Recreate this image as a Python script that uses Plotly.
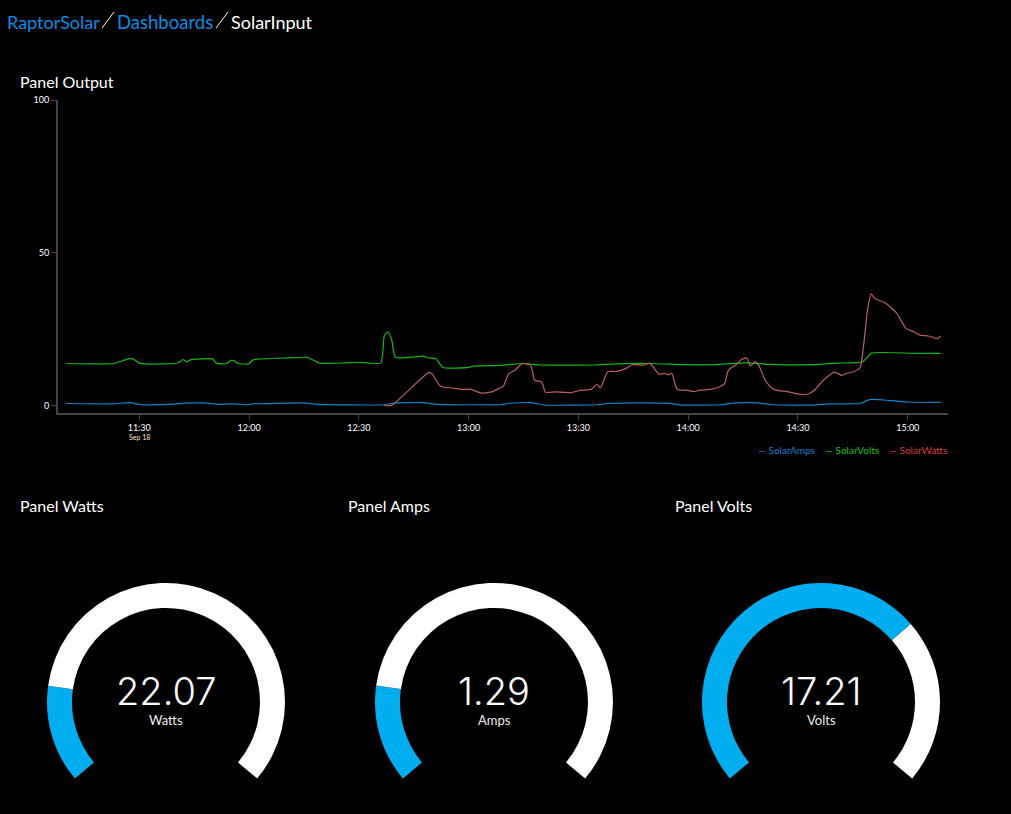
import plotly.graph_objects as go

# times are HH:MM:SS on the same day
amps_time = ["11:10:00", "11:23:00", "11:27:30", "11:30:30", "11:39:30", "11:42:00", "11:46:40", "11:50:00", "11:51:30", "11:55:00",
             "11:59:30", "12:01:00", "12:09:30", "12:15:00", "12:19:00", "12:37:00", "12:40:00", "12:47:40", "12:51:30", "13:00:00",
             "13:08:30", "13:11:00", "13:17:00", "13:21:00", "13:35:00", "13:38:00", "13:49:30", "13:56:00", "13:58:00", "14:09:00",
             "14:12:00", "14:16:00", "14:19:00", "14:23:00", "14:34:00", "14:38:30", "14:47:00", "14:49:30", "14:52:00", "15:00:00", "15:09:00"]
amps_vals = [0.7, 0.6, 1.0, 0.3, 0.5, 0.8, 0.9, 0.7, 0.4, 0.6,
             0.3, 0.6, 0.8, 0.9, 0.4, 0.3, 0.9, 1.0, 0.4, 0.3,
             0.3, 0.7, 1.0, 0.2, 0.3, 0.7, 0.9, 0.6, 0.2, 0.3,
             0.8, 1.0, 0.9, 0.3, 0.2, 0.6, 0.7, 2.0, 2.0, 1.2, 1.1]

volts_time = ["11:10:00", "11:23:00", "11:25:20", "11:27:30", "11:28:30", "11:30:00", "11:33:00", "11:39:30", "11:41:00", "11:42:00",
              "11:43:00", "11:44:00", "11:46:40", "11:50:00", "11:51:00", "11:52:40", "11:54:00", "11:55:00", "11:56:00", "11:57:00",
              "12:00:00", "12:01:00", "12:02:20", "12:09:30", "12:16:00", "12:17:00", "12:19:20", "12:26:00", "12:29:30", "12:36:00",
              "12:37:00", "12:38:00", "12:39:00", "12:40:00", "12:47:40", "12:49:00", "12:51:00", "12:53:00", "13:00:00", "13:01:00",
              "13:08:30", "13:15:00", "13:20:00", "13:34:00", "13:40:30", "13:49:30", "13:59:30", "14:07:00", "14:16:00", "14:22:30",
              "14:34:00", "14:40:30", "14:47:30", "14:49:00", "14:50:00", "14:54:00", "15:02:30", "15:09:00"]
volts_vals = [13.8, 13.8, 14.6, 15.5, 15.2, 13.9, 13.6, 13.8, 14.2, 15.1,
              14.3, 15.0, 15.3, 15.3, 14.0, 13.7, 13.8, 14.8, 14.7, 13.8,
              13.7, 14.9, 15.2, 15.6, 15.8, 15.2, 13.9, 14.0, 14.2, 14.0,
              23.1, 24.1, 21.5, 15.8, 16.2, 15.6, 15.4, 12.5, 12.5, 12.9,
              13.2, 13.8, 13.3, 13.3, 13.7, 13.8, 13.4, 13.4, 14.0, 13.5,
              13.4, 13.9, 14.3, 15.8, 17.2, 17.4, 17.1, 17.1]

watts_time = ["12:37:00", "12:39:00", "12:49:00", "12:50:00", "12:52:00", "12:53:00", "12:56:00", "12:59:00", "13:00:30", "13:03:30",
              "13:06:30", "13:08:30", "13:09:30", "13:11:00", "13:12:40", "13:14:40", "13:17:00", "13:18:00", "13:20:00", "13:21:00",
              "13:23:40", "13:28:00", "13:30:30", "13:33:40", "13:35:00", "13:36:00", "13:38:00", "13:40:30", "13:43:00", "13:44:40",
              "13:48:00", "13:49:30", "13:52:00", "13:53:40", "13:54:40", "13:55:30", "13:57:00", "13:59:30", "14:01:30", "14:03:20",
              "14:06:00", "14:08:40", "14:10:00", "14:11:00", "14:13:00", "14:14:40", "14:16:00", "14:17:00", "14:18:20", "14:19:30",
              "14:21:00", "14:23:00", "14:24:40", "14:27:00", "14:30:30", "14:33:00", "14:34:40", "14:37:00", "14:40:00", "14:42:00",
              "14:43:20", "14:45:00", "14:47:00", "14:48:00", "14:49:00", "14:50:00", "14:51:00", "14:54:00", "14:57:00", "14:59:30",
              "15:01:40", "15:03:20", "15:05:40", "15:08:00", "15:09:00"]
watts_vals = [0.0, 0.1, 10.8, 10.4, 6.7, 6.1, 5.7, 5.3, 5.4, 4.1,
              4.6, 5.8, 6.4, 10.5, 11.6, 13.8, 13.2, 8.4, 7.7, 4.4,
              4.5, 4.3, 5.0, 5.4, 7.0, 5.8, 11.1, 11.2, 12.2, 13.4,
              13.3, 13.9, 10.3, 10.6, 10.1, 10.6, 5.3, 5.1, 4.6, 5.1,
              5.3, 6.2, 7.3, 11.6, 13.3, 15.2, 15.6, 13.0, 14.4, 12.7,
              8.4, 5.6, 4.9, 4.6, 3.7, 3.9, 5.3, 8.4, 11.0, 9.9,
              10.6, 11.0, 12.5, 20.4, 31.3, 36.6, 35.1, 33.5, 30.2, 25.3,
              24.2, 23.1, 22.8, 21.9, 22.8]

x_ticks = ["11:30", "12:00", "12:30", "13:00", "13:30", "14:00", "14:30", "15:00"]
y_ticks = [0, 50, 100]

gauge_titles = ["Panel Watts", "Panel Amps", "Panel Volts"]
gauge_labels = ["Watts", "Amps", "Volts"]
gauge_values = [22.07, 1.29, 17.21]
gauge_max = [120, 7, 25]
gauge_center = [166, 494, 821]

DAY = "2018-09-18 "
W, H = 1011, 830  # taller than the window, the gauges' empty wedge runs off the bottom
GAUGE_R = 119
GAUGE_Y = 702


def px(x):
    return x / W


def py(y):
    return 1 - y / H


def stamp(times):
    return [DAY + t for t in times]


fig = go.Figure()

smooth = dict(width=1.2, shape="spline", smoothing=0.5)
fig.add_trace(go.Scatter(x=stamp(amps_time), y=amps_vals, mode="lines", name="SolarAmps",
                         line=dict(color="#0b86c4", **smooth), hoverinfo="skip"))
fig.add_trace(go.Scatter(x=stamp(volts_time), y=volts_vals, mode="lines", name="SolarVolts",
                         line=dict(color="#10bb10", **smooth), hoverinfo="skip"))
fig.add_trace(go.Scatter(x=stamp(watts_time), y=watts_vals, mode="lines", name="SolarWatts",
                         line=dict(color="#bb5f5f", **smooth), hoverinfo="skip"))

# gauges are pies with a see-through wedge for the 100 degree gap at the bottom
for i in range(3):
    c = gauge_center[i]
    fig.add_trace(go.Pie(values=[gauge_values[i], gauge_max[i] - gauge_values[i], gauge_max[i] * 100 / 260],
                         marker=dict(colors=["#00adef", "#ffffff", "rgba(0,0,0,0)"], line=dict(width=0)),
                         hole=94 / GAUGE_R, rotation=-130, direction="clockwise", sort=False,
                         textinfo="none", hoverinfo="skip", showlegend=False,
                         domain=dict(x=[px(c - GAUGE_R), px(c + GAUGE_R)],
                                     y=[py(GAUGE_Y + GAUGE_R), py(GAUGE_Y - GAUGE_R)])))

annotations = []


def label(x, y, text, size, color="#ffffff", anchor="left", weight=400, family="Lato"):
    annotations.append(dict(xref="paper", yref="paper", x=px(x), y=py(y), text=text, showarrow=False,
                            xanchor=anchor, yanchor="middle", borderpad=0,
                            font=dict(size=size, color=color, family=family, weight=weight)))


label(6, 22, "RaptorSolar", 18, "#0a8ce4")
label(116, 22, "Dashboards", 18.5, "#0a8ce4")
label(230, 22, "SolarInput", 18)
label(19, 82, "Panel Output", 16)

for i in range(3):
    label(gauge_center[i] - 147, 505, gauge_titles[i], 16)
    label(gauge_center[i], 691, f"{gauge_values[i]:.2f}", 38, anchor="center", weight=300, family="Inter")
    label(gauge_center[i], 720, gauge_labels[i], 13, "#eeeeee", anchor="center")

label(139, 437, "Sep 18", 7, "#ffe9c8", anchor="center")

# legend swatches in the reference are much shorter than plotly's minimum itemwidth
label(757, 450, "\u2014 SolarAmps", 10, "#0a80d0")
label(824, 450, "\u2014 SolarVolts", 10, "#12c812")
label(888, 450, "\u2014 SolarWatts", 10, "#d83a3a")

fig.update_layout(
    width=W, height=H, margin=dict(l=0, r=0, t=0, b=0, autoexpand=False),
    paper_bgcolor="#000000", plot_bgcolor="#000000",
    showlegend=False, hovermode=False,
    annotations=annotations,
    shapes=[dict(type="line", xref="paper", yref="paper", x0=px(102), x1=px(114), y0=py(28), y1=py(12),
                 line=dict(color="#ffffff", width=1)),
            dict(type="line", xref="paper", yref="paper", x0=px(216), x1=px(228), y0=py(28), y1=py(12),
                 line=dict(color="#ffffff", width=1))],
    xaxis=dict(domain=[px(58), px(948)], anchor="y", type="date", automargin=False,
               range=[DAY + "11:07:48", DAY + "15:11:00"],
               tickvals=[DAY + t for t in x_ticks], ticktext=x_ticks,
               showgrid=False, zeroline=False, showline=True, linecolor="#444444", linewidth=2,
               ticks="outside", ticklen=5, tickcolor="#444444", tickwidth=1,
               tickfont=dict(size=9, color="#ffffff", family="Lato")),
    yaxis=dict(domain=[py(413), py(100)], anchor="x", range=[-2.4, 100], automargin=False,
               tickvals=y_ticks, ticktext=[str(v) for v in y_ticks],
               showgrid=False, zeroline=False, showline=True, linecolor="#444444", linewidth=2,
               ticks="outside", ticklen=5, tickcolor="#444444", tickwidth=1,
               tickfont=dict(size=9, color="#ffffff", family="Lato")),
)

fig.write_html("out.html", config=dict(displayModeBar=False),
               post_script="document.body.style.margin='0';document.body.style.background='#000';"
                           "document.documentElement.style.overflow='hidden';")
